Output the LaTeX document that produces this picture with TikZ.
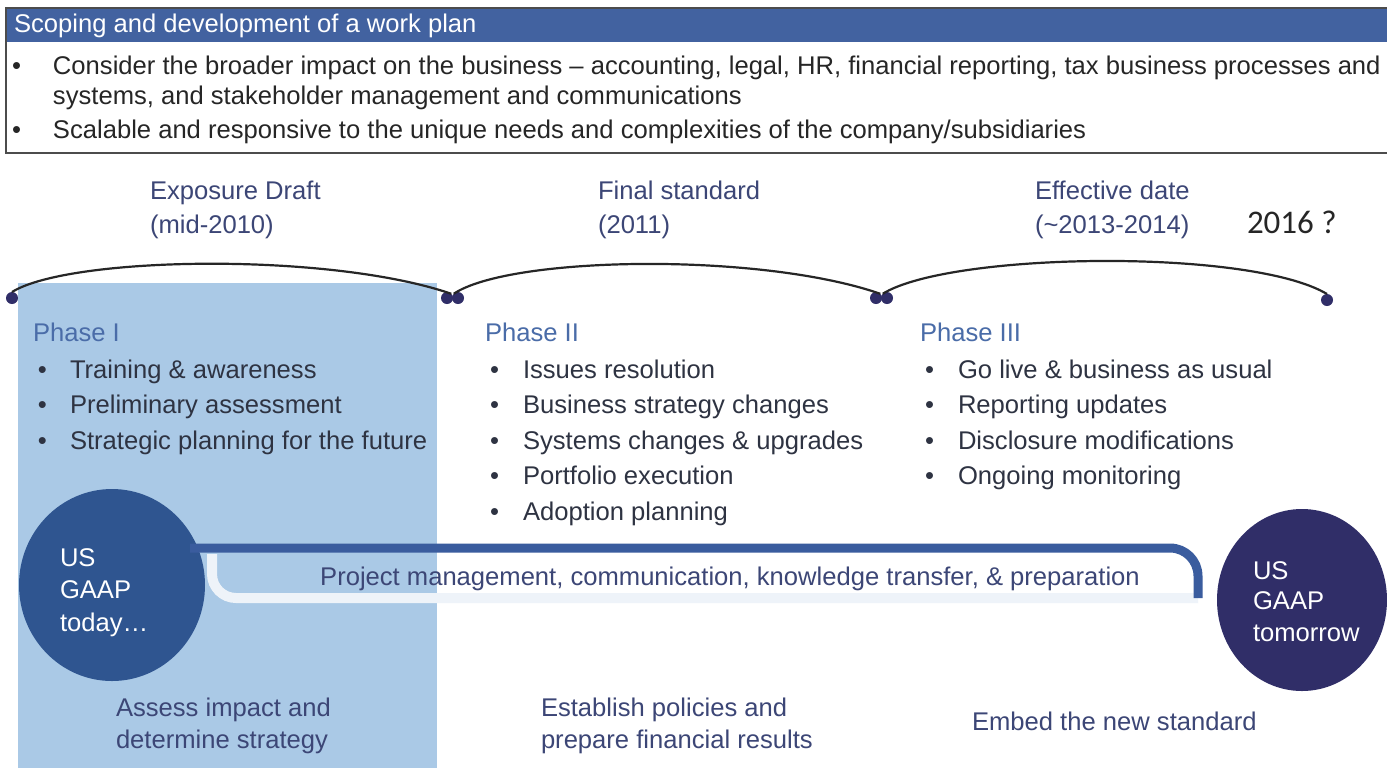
\documentclass[tikz,border=0pt]{standalone}
\usepackage{fontspec}
\setmainfont{Liberation Sans}
\newfontfamily\notefont{Carlito}
\usetikzlibrary{positioning, calc, shapes.geometric}
\definecolor{mHead}{HTML}{4262A0}
\definecolor{mPale}{HTML}{AAC9E6}
\definecolor{mNavy}{HTML}{2F5590}
\definecolor{mPlum}{HTML}{302E68}
\definecolor{mBand}{HTML}{3A5C9E}
\definecolor{mMist}{HTML}{EEF3F9}
\definecolor{mInk}{HTML}{3C4676}
\definecolor{mPhase}{HTML}{4A6CA8}
\definecolor{mText}{HTML}{2E3342}

\begin{document}
\begin{tikzpicture}[x=0.5pt, y=-0.5pt,
    every node/.style={inner sep=0pt, outer sep=0pt},
    txt/.style={anchor=base west, font=\fontsize{12.8}{15}\selectfont, text=mText},
    toptxt/.style={anchor=base west, font=\fontsize{12.8}{15}\selectfont, text=black!85},
    datetxt/.style={txt, text=mInk},
    phasetxt/.style={txt, text=mPhase},
    gaap/.style={ellipse, minimum width=93pt, minimum height=96pt},
    gaaptxt/.style={anchor=base west, font=\fontsize{12.8}{15}\selectfont, text=white},
    dot/.style={circle, fill=mPlum, minimum size=6pt},
    arc/.style={line width=1.1pt, black!85}]
  \useasboundingbox (0,0) rectangle (1387,768);
  \fill[white] (0,0) rectangle (1387,768);

  % work plan box
  \fill[mHead] (6,8) rectangle (1395,42);
  \draw[black!70, line width=1pt] (6,8) rectangle (1395,153);
  \node[toptxt, text=white] (plan) at (14,32) {Scoping and development of a work plan};
  \foreach \lbl/\y/\i in {{Consider the broader impact on the business -- accounting, legal, HR, financial reporting, tax business processes and}/74/1,
      {systems, and stakeholder management and communications}/104/2,
      {Scalable and responsive to the unique needs and complexities of the company/subsidiaries}/138/3} {
    \node[toptxt] (scope-\i) at (53,\y) {\lbl};
  }
  \node[toptxt] (sb1) at (12,74) {\textbullet};
  \node[toptxt] (sb3) at (12,138) {\textbullet};

  % phase I background
  \fill[mPale] (18,283) rectangle (437,768);

  % milestones
  \node[datetxt] (ed) at (150,199) {Exposure Draft};
  \node[datetxt] (edy) at (150,233) {(mid-2010)};
  \node[datetxt] (fs) at (598,199) {Final standard};
  \node[datetxt] (fsy) at (598,233) {(2011)};
  \node[datetxt] (eff) at (1035,199) {Effective date};
  \node[datetxt] (effy) at (1035,233) {(\textasciitilde2013-2014)};
  \node[anchor=base west, font=\notefont\fontsize{16.5}{18}\selectfont, text=black!85] (later) at (1247,233) {2016 ?};

  % timeline arcs
  \node[dot] (d0) at (12,298) {};
  \node[dot] (d1) at (447,298) {};
  \node[dot] (d2) at (458,298) {};
  \node[dot] (d3) at (876,298) {};
  \node[dot] (d4) at (887,298) {};
  \node[dot] (d5) at (1327,300) {};
  \draw[arc] (d0.north) .. controls (70,256) and (330,252) .. (d1.north east);
  \draw[arc] (d2.north west) .. controls (510,256) and (760,252) .. (d3.north east);
  \draw[arc] (d4.north west) .. controls (950,252) and (1250,248) .. (d5.north);

  % phases
  \node[phasetxt] (ph1) at (33,341) {Phase I};
  \node[phasetxt] (ph2) at (485,341) {Phase II};
  \node[phasetxt] (ph3) at (920,341) {Phase III};
  \foreach \lbl/\y/\i in {Training \& awareness/378/1, Preliminary assessment/413/2, Strategic planning for the future/449/3} {
    \node[txt] (a\i) at (70,\y) {\lbl};
    \node[txt] (ab\i) at (38,\y) {\textbullet};
  }
  \foreach \lbl/\y/\i in {Issues resolution/378/1, Business strategy changes/413/2, Systems changes \& upgrades/449/3, Portfolio execution/484/4, Adoption planning/520/5} {
    \node[txt] (b\i) at (523,\y) {\lbl};
    \node[txt] (bb\i) at (490,\y) {\textbullet};
  }
  \foreach \lbl/\y/\i in {Go live \& business as usual/378/1, Reporting updates/413/2, Disclosure modifications/449/3, Ongoing monitoring/484/4} {
    \node[txt] (c\i) at (958,\y) {\lbl};
    \node[txt] (cb\i) at (925,\y) {\textbullet};
  }

  % US GAAP today / tomorrow
  \node[gaap, fill=mNavy] (today) at (112,585) {};
  \node[gaap, fill=mPlum, minimum width=85pt, minimum height=91pt] (tomorrow) at (1302,600) {};
  \foreach \lbl/\y/\i in {US/566/1, GAAP/598/2, today\ldots/631/3} {
    \node[gaaptxt] (t\i) at (60,\y) {\lbl};
  }
  \foreach \lbl/\y/\i in {US/579/1, GAAP/609/2, tomorrow/641/3} {
    \node[gaaptxt] (m\i) at (1253,\y) {\lbl};
  }

  % project management band
  \coordinate (mist0) at (212,554);
  \coordinate (band0) at (190,548);
  \coordinate (bandend) at (1198,598);
  \draw[mMist, line width=5pt, rounded corners=12pt] (mist0) -- (mist0 |- bandend) -- (bandend);
  \draw[mBand, line width=4.5pt, rounded corners=14pt] (band0) -- (band0 -| bandend) -- (bandend);
  \node[datetxt, anchor=base] (pm) at (730,585) {Project management, communication, knowledge transfer, \& preparation};

  % outcomes
  \node[datetxt] (o1a) at (116,716) {Assess impact and};
  \node[datetxt] (o1b) at (116,748) {determine strategy};
  \node[datetxt] (o2a) at (541,716) {Establish policies and};
  \node[datetxt] (o2b) at (541,748) {prepare financial results};
  \node[datetxt] (o3) at (972,730) {Embed the new standard};
\end{tikzpicture}
\end{document}
